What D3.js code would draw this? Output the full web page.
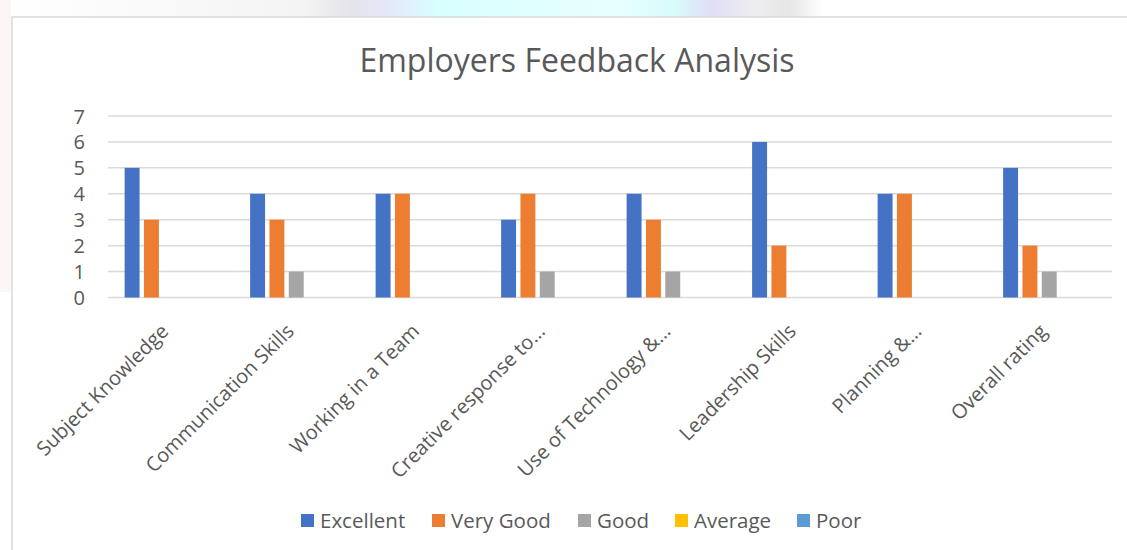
<!DOCTYPE html>
<html>
<head>
<meta charset="utf-8">
<script src="https://cdn.jsdelivr.net/npm/d3@7"></script>
<style>
  body { margin: 0; background: #fff; }
  svg text { font-family: "Open Sans", "Noto Sans", sans-serif; fill: #595959; }
</style>
</head>
<body>
<svg id="chart" width="1127" height="550"></svg>
<script>
// chart data
var categories = ["Subject Knowledge", "Communication Skills", "Working in a Team",
  "Creative response to\u2026", "Use of Technology &\u2026", "Leadership Skills",
  "Planning &\u2026", "Overall rating"];
var seriesNames = ["Excellent", "Very Good", "Good", "Average", "Poor"];
var excellent = [5, 4, 4, 3, 4, 6, 4, 5];
var veryGood  = [3, 3, 4, 4, 3, 2, 4, 2];
var good      = [0, 1, 0, 1, 1, 0, 0, 1];
var average   = [0, 0, 0, 0, 0, 0, 0, 0];
var poor      = [0, 0, 0, 0, 0, 0, 0, 0];
var yTicks = [0, 1, 2, 3, 4, 5, 6, 7];

var colors = ["#4472C4", "#ED7D31", "#A5A5A5", "#FFC000", "#5B9BD5"];
var allSeries = [excellent, veryGood, good, average, poor];

var svg = d3.select("#chart");

// faint background strip above the chart box
var defs = svg.append("defs");
var grad = defs.append("linearGradient").attr("id", "topStrip");
[[0, "#ffffff"], [0.27, "#f4f4f4"], [0.31, "#e4e4ea"], [0.34, "#e6e6fa"], [0.39, "#d8ffff"],
 [0.55, "#e8ffff"], [0.6, "#d8fafa"], [0.63, "#e0def8"], [0.67, "#eeeef0"], [0.7, "#e6e6e6"],
 [0.73, "#ffffff"], [1, "#ffffff"]].forEach(function (s) {
  grad.append("stop").attr("offset", s[0]).attr("stop-color", s[1]);
});
svg.append("rect").attr("x", 0).attr("y", 0).attr("width", 1127).attr("height", 17)
   .attr("fill", "url(#topStrip)");
svg.append("rect").attr("x", 0).attr("y", 0).attr("width", 11).attr("height", 292)
   .attr("fill", "#fdf6f6");

// chart box
svg.append("rect").attr("x", 12).attr("y", 17).attr("width", 1140).attr("height", 560)
   .attr("fill", "#fff").attr("stroke", "#d9d9d9").attr("stroke-width", 1.5);

var plotLeft = 108, plotRight = 1112, plotTop = 116, plotBottom = 297.5;

var x0 = d3.scaleBand().domain(categories).range([plotLeft, plotRight]).padding(0);
var x1 = d3.scaleBand().domain(seriesNames).range([0, x0.bandwidth()])
  .paddingInner(0.227).paddingOuter(0.86);
var y = d3.scaleLinear().domain([0, 7]).range([plotBottom, plotTop]);

// title
svg.append("text").attr("x", 577).attr("y", 72)
   .attr("text-anchor", "middle").style("font-size", "32px")
   .text("Employers Feedback Analysis");

// gridlines
svg.append("g").selectAll("line").data(yTicks).enter().append("line")
   .attr("x1", plotLeft).attr("x2", plotRight)
   .attr("y1", function (d) { return y(d); }).attr("y2", function (d) { return y(d); })
   .attr("stroke", "#d9d9d9").attr("stroke-width", 1.5);

// y axis labels
var yAxis = d3.axisLeft(y).tickValues(yTicks).tickFormat(d3.format("d")).tickSize(0).tickPadding(0);
var yg = svg.append("g").attr("transform", "translate(85,0)").call(yAxis);
yg.select(".domain").remove();
yg.selectAll("text").style("font-size", "20px").attr("fill", "#595959").attr("dy", "0.35em");

// bars
var groups = svg.append("g").selectAll("g").data(categories).enter().append("g")
   .attr("transform", function (d) { return "translate(" + x0(d) + ",0)"; });
groups.selectAll("rect")
   .data(function (d, i) {
     return seriesNames.map(function (s, j) { return { s: s, v: allSeries[j][i], c: colors[j] }; });
   })
   .enter().append("rect")
   .attr("x", function (d) { return x1(d.s); })
   .attr("width", x1.bandwidth())
   .attr("y", function (d) { return y(d.v); })
   .attr("height", function (d) { return y(0) - y(d.v); })
   .attr("fill", function (d) { return d.c; });

// x axis labels, rotated
var xAxis = d3.axisBottom(x0).tickSize(0).tickPadding(0);
var xg = svg.append("g").attr("transform", "translate(0," + plotBottom + ")").call(xAxis);
xg.select(".domain").remove();
xg.selectAll("text")
   .style("font-size", "20px").attr("fill", "#595959")
   .attr("text-anchor", "end").attr("dy", "0.35em").attr("y", 0).attr("x", 0)
   .attr("transform", "translate(-6,30) rotate(-45)");

// legend
var legendX = [301, 432, 578, 675, 797];
var legend = svg.append("g").selectAll("g").data(seriesNames).enter().append("g")
   .attr("transform", function (d, i) { return "translate(" + legendX[i] + ",514)"; });
legend.append("rect").attr("width", 13).attr("height", 13)
   .attr("fill", function (d, i) { return colors[i]; });
legend.append("text").attr("x", 19).attr("y", 7).attr("dy", "0.35em")
   .style("font-size", "20.5px").text(function (d) { return d; });
</script>
</body>
</html>
